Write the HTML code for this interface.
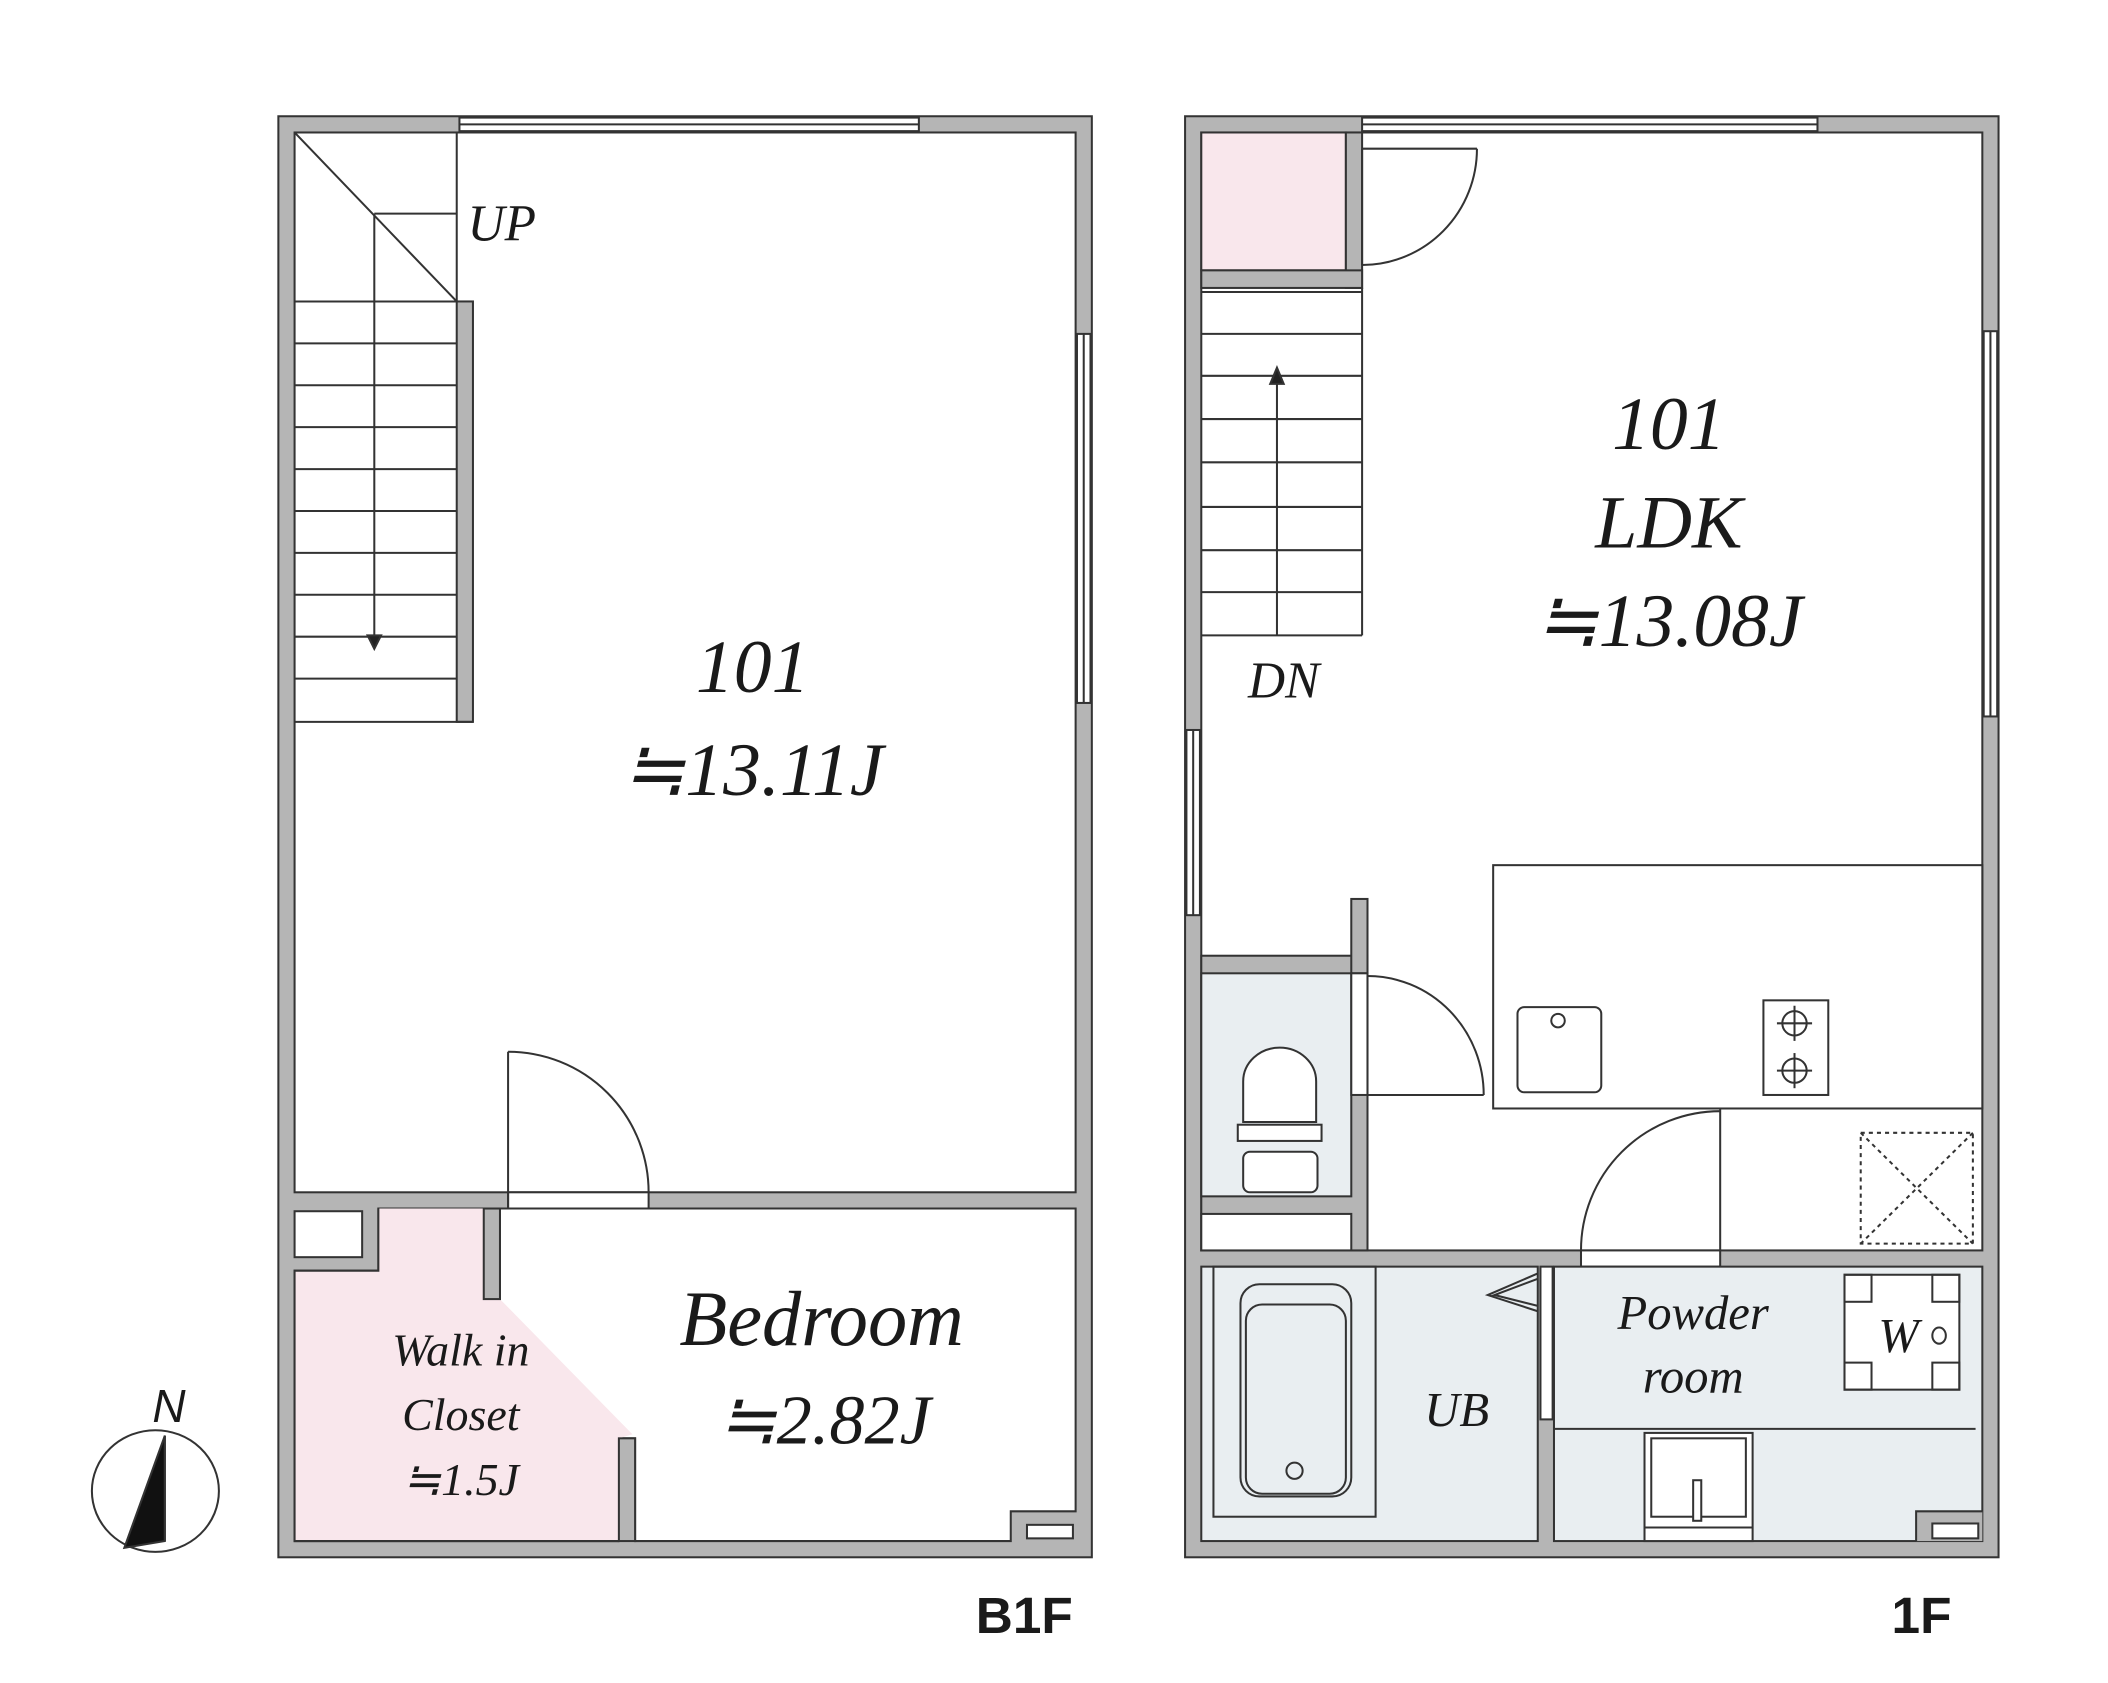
<!DOCTYPE html>
<html><head><meta charset="utf-8"><style>
html,body{margin:0;padding:0;background:#fff;}
svg{display:block;}
text{font-family:"Liberation Serif",serif;font-style:italic;fill:#1a1a1a;}
.b{font-family:"Liberation Sans",sans-serif;font-style:normal;font-weight:bold;}
</style></head><body>
<svg width="2108" height="1683" viewBox="0 0 1560 1245" preserveAspectRatio="none" xmlns="http://www.w3.org/2000/svg">
<g stroke="#333" stroke-width="1.5">
<!-- B1F -->
<rect x="206" y="86" width="602" height="1066" fill="#b5b5b5"/>
<rect x="218" y="98" width="578" height="784" fill="#fff"/>
<rect x="340" y="87" width="340" height="10" fill="#fff"/>
<line x1="340" y1="92" x2="680" y2="92"/>
<rect x="797" y="247" width="10" height="273" fill="#fff"/>
<line x1="802" y1="247" x2="802" y2="520"/>
<!-- stairs -->
<line x1="338" y1="98" x2="338" y2="223"/>
<line x1="218" y1="98" x2="338" y2="223"/>
<line x1="277" y1="158" x2="338" y2="158"/>
<rect x="338" y="223" width="12" height="311" fill="#b5b5b5"/>
<g fill="none">
<line x1="218" y1="223" x2="338" y2="223"/><line x1="218" y1="254" x2="338" y2="254"/><line x1="218" y1="285" x2="338" y2="285"/><line x1="218" y1="316" x2="338" y2="316"/><line x1="218" y1="347" x2="338" y2="347"/><line x1="218" y1="378" x2="338" y2="378"/><line x1="218" y1="409" x2="338" y2="409"/><line x1="218" y1="440" x2="338" y2="440"/><line x1="218" y1="471" x2="338" y2="471"/><line x1="218" y1="502" x2="338" y2="502"/><line x1="218" y1="534" x2="350" y2="534"/>
<line x1="277" y1="158" x2="277" y2="478"/>
</g>
<path d="M272 470 L277 480 L282 470 Z" fill="#222"/>
<!-- door -->
<rect x="376" y="882" width="104" height="12" fill="#fff"/>
<line x1="376" y1="778" x2="376" y2="894"/>
<path d="M376 778 A104 104 0 0 1 480 882" fill="none"/>
<!-- bottom rooms -->
<rect x="218" y="896" width="50" height="34" fill="#fff"/>
<path d="M370 894 L796 894 L796 1118 L748 1118 L748 1140 L470 1140 L470 1064 L458 1064 L458 1140 L218 1140 L218 940 L280 940 L280 894 L358 894 L358 961 L370 961 Z" fill="#fff"/>
<path d="M280 894 L358 894 L358 961 L370 961 L468 1061 L458 1064 L458 1140 L218 1140 L218 940 L280 940 Z" fill="#f9e7ec" stroke="none"/>
<path d="M280 894 L280 940 L218 940 L218 1140 L458 1140" fill="none"/>
<rect x="458" y="1064" width="12" height="76" fill="#b5b5b5"/>
<rect x="358" y="894" width="12" height="67" fill="#b5b5b5"/>
<rect x="760" y="1128" width="34" height="10" fill="#fff"/>
<!-- compass -->
<ellipse cx="115" cy="1103" rx="47" ry="45" fill="none"/>
<path d="M122 1062 L92 1145 L122 1140 Z" fill="#111"/>
<path d="M122 1062 L122 1140" fill="none"/>

<!-- 1F -->
<rect x="877" y="86" width="602" height="1066" fill="#b5b5b5"/>
<rect x="889" y="98" width="578" height="827" fill="#fff"/>
<rect x="1008" y="87" width="337" height="10" fill="#fff"/>
<line x1="1008" y1="92" x2="1345" y2="92"/>
<rect x="1468" y="245" width="10" height="285" fill="#fff"/>
<line x1="1473" y1="245" x2="1473" y2="530"/>
<rect x="878" y="540" width="10" height="137" fill="#fff"/>
<line x1="883" y1="540" x2="883" y2="677"/>
<rect x="889" y="98" width="107" height="102" fill="#f9e7ec"/>
<rect x="996" y="98" width="12" height="115" fill="#b5b5b5"/>
<rect x="889" y="200" width="119" height="13" fill="#b5b5b5"/>
<line x1="1008" y1="110" x2="1008" y2="196"/>
<path d="M1093 110 A85 86 0 0 1 1008 196" fill="none"/>
<line x1="1008" y1="110" x2="1093" y2="110"/>
<g fill="none">
<line x1="889" y1="216" x2="1008" y2="216"/><line x1="889" y1="247" x2="1008" y2="247"/><line x1="889" y1="278" x2="1008" y2="278"/><line x1="889" y1="310" x2="1008" y2="310"/><line x1="889" y1="342" x2="1008" y2="342"/><line x1="889" y1="375" x2="1008" y2="375"/><line x1="889" y1="407" x2="1008" y2="407"/><line x1="889" y1="438" x2="1008" y2="438"/><line x1="889" y1="470" x2="1008" y2="470"/>
<line x1="1008" y1="213" x2="1008" y2="470"/>
<line x1="945" y1="282" x2="945" y2="470"/>
</g>
<path d="M940 284 L945 272 L950 284 Z" fill="#222"/>
<!-- toilet -->
<rect x="889" y="707" width="123" height="218" fill="#b5b5b5"/>
<rect x="1000" y="665" width="12" height="55" fill="#b5b5b5"/>
<rect x="889" y="720" width="111" height="165" fill="#e9eef1"/>
<rect x="889" y="898" width="111" height="27" fill="#fff"/>
<rect x="1000" y="720" width="12" height="90" fill="#fff"/>
<line x1="1012" y1="722" x2="1012" y2="810"/>
<line x1="1012" y1="810" x2="1098" y2="810"/>
<path d="M1012 722 A86 88 0 0 1 1098 810" fill="none"/>
<path d="M920 830 L920 800 A27 25 0 0 1 974 800 L974 830 Z" fill="#fff"/>
<rect x="916" y="832" width="62" height="12" fill="#fff"/>
<rect x="920" y="852" width="55" height="30" rx="5" fill="#fff"/>
<!-- kitchen -->
<rect x="1105" y="640" width="362" height="180" fill="#fff"/>
<rect x="1123" y="745" width="62" height="63" rx="5" fill="#fff"/>
<circle cx="1153" cy="755" r="5" fill="#fff"/>
<rect x="1305" y="740" width="48" height="70" fill="#fff"/>
<circle cx="1328" cy="757" r="9" fill="none"/><circle cx="1328" cy="792" r="9" fill="none"/>
<line x1="1315" y1="757" x2="1341" y2="757"/><line x1="1328" y1="744" x2="1328" y2="770"/>
<line x1="1315" y1="792" x2="1341" y2="792"/><line x1="1328" y1="779" x2="1328" y2="805"/>
<line x1="1273" y1="820" x2="1273" y2="925"/>
<rect x="1377" y="838" width="83" height="82" fill="none" stroke-dasharray="3 3"/>
<line x1="1377" y1="838" x2="1460" y2="920" stroke-dasharray="3 3"/><line x1="1460" y1="838" x2="1377" y2="920" stroke-dasharray="3 3"/>
<rect x="1170" y="925" width="103" height="12" fill="#fff"/>
<path d="M1273 822 A103 103 0 0 0 1170 925" fill="none"/>
<!-- bath -->
<rect x="889" y="937" width="249" height="203" fill="#e9eef1"/>
<rect x="898" y="937" width="120" height="185" fill="none"/>
<rect x="918" y="950" width="82" height="157" rx="14" fill="none"/>
<rect x="922" y="965" width="74" height="140" rx="12" fill="none"/>
<circle cx="958" cy="1088" r="6" fill="none"/>
<path d="M1138 942 L1101 958 L1138 970 M1138 946 L1106 958 L1138 966" fill="none"/>
<rect x="1140" y="937" width="9" height="113" fill="#fff"/>
<rect x="1150" y="937" width="317" height="203" fill="#e9eef1"/>
<line x1="1150" y1="1057" x2="1462" y2="1057"/>
<rect x="1365" y="943" width="85" height="85" fill="#fff"/>
<rect x="1365" y="943" width="20" height="20" fill="none"/><rect x="1430" y="943" width="20" height="20" fill="none"/>
<rect x="1365" y="1008" width="20" height="20" fill="none"/><rect x="1430" y="1008" width="20" height="20" fill="none"/>
<ellipse cx="1435" cy="988" rx="5" ry="6" fill="none"/>
<rect x="1217" y="1060" width="80" height="80" fill="#fff"/>
<rect x="1222" y="1064" width="70" height="58" fill="none"/>
<rect x="1253" y="1095" width="6" height="30" fill="#fff"/>
<line x1="1217" y1="1130" x2="1297" y2="1130"/>
<rect x="1418" y="1118" width="49" height="22" fill="#b5b5b5" stroke="none"/>
<path d="M1418 1140 L1418 1118 L1467 1118" fill="none"/>
<rect x="1430" y="1127" width="34" height="11" fill="#fff"/>
</g>
<text x="557" y="512" font-size="56" text-anchor="middle">101</text>
<text x="557" y="588" font-size="56" text-anchor="middle">≒13.11J</text>
<text x="346" y="178" font-size="38">UP</text>
<text x="608" y="995" font-size="58" text-anchor="middle">Bedroom</text>
<text x="610" y="1068" font-size="52" text-anchor="middle">≒2.82J</text>
<text x="341" y="1010" font-size="34" text-anchor="middle">Walk in</text>
<text x="341" y="1058" font-size="34" text-anchor="middle">Closet</text>
<text x="341" y="1106" font-size="34" text-anchor="middle">≒1.5J</text>
<text x="125" y="1052" font-size="34" text-anchor="middle" class="b" style="font-weight:normal;font-style:italic">N</text>
<text x="758" y="1208" font-size="38" text-anchor="middle" class="b">B1F</text>
<text x="1422" y="1208" font-size="38" text-anchor="middle" class="b">1F</text>
<text x="1235" y="332" font-size="56" text-anchor="middle">101</text>
<text x="1235" y="405" font-size="56" text-anchor="middle">LDK</text>
<text x="1235" y="478" font-size="56" text-anchor="middle">≒13.08J</text>
<text x="950" y="516" font-size="38" text-anchor="middle">DN</text>
<text x="1078" y="1055" font-size="36" text-anchor="middle">UB</text>
<text x="1253" y="983" font-size="36" text-anchor="middle">Powder</text>
<text x="1253" y="1030" font-size="36" text-anchor="middle">room</text>
<text x="1405" y="1000" font-size="36" text-anchor="middle">W</text>
</svg>
</body></html>
